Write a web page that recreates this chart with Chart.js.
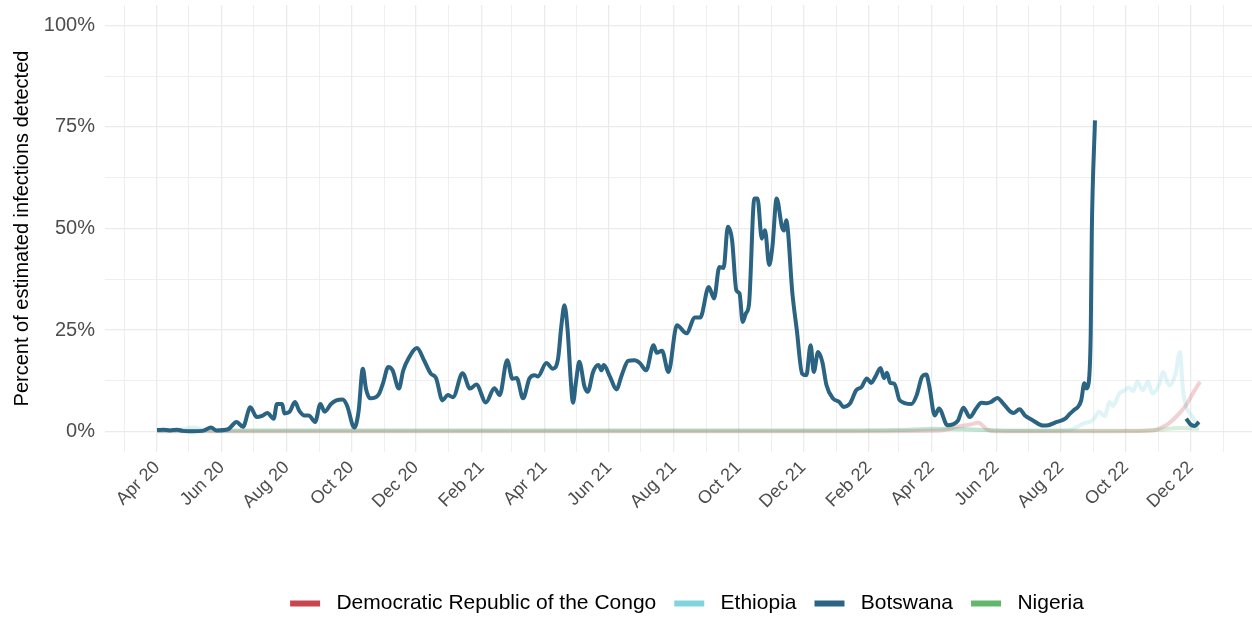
<!DOCTYPE html>
<html>
<head>
<meta charset="utf-8">
<script src="https://cdn.jsdelivr.net/npm/chart.js@4.4.1/dist/chart.umd.min.js"></script>
<style>
  html, body { margin: 0; padding: 0; background: #fff; }
</style>
</head>
<body>
<canvas id="mainChart" width="1252" height="617"></canvas>
<script>
const countries = ["Democratic Republic of the Congo", "Ethiopia", "Botswana", "Nigeria"];
const monthLabels = ["Jan", "Feb", "Mar", "Apr", "May", "Jun", "Jul", "Aug", "Sep", "Oct", "Nov", "Dec"];
const yTickValues = [0, 12.5, 25, 37.5, 50, 62.5, 75, 87.5, 100];

const botswanaDates = [
  "2020-04-01","2020-04-07","2020-04-13","2020-04-20","2020-04-25","2020-05-05","2020-05-14","2020-05-22","2020-05-27","2020-06-07",
  "2020-06-15","2020-06-21","2020-06-28","2020-07-04","2020-07-09","2020-07-14","2020-07-20","2020-07-23","2020-07-28","2020-07-30",
  "2020-08-04","2020-08-09","2020-08-13","2020-08-18","2020-08-22","2020-08-28","2020-09-02","2020-09-06","2020-09-12","2020-09-17",
  "2020-09-23","2020-09-27","2020-10-04","2020-10-08","2020-10-12","2020-10-15","2020-10-19","2020-10-27","2020-10-31","2020-11-05",
  "2020-11-09","2020-11-15","2020-11-19","2020-11-24","2020-12-02","2020-12-09","2020-12-15","2020-12-20","2020-12-26","2020-12-31",
  "2021-01-05","2021-01-14","2021-01-21","2021-01-27","2021-02-05","2021-02-13","2021-02-18","2021-02-25","2021-03-02","2021-03-06",
  "2021-03-12","2021-03-18","2021-03-23","2021-03-26","2021-04-03","2021-04-09","2021-04-14","2021-04-17","2021-04-20","2021-04-23",
  "2021-04-26","2021-04-28","2021-05-01","2021-05-04","2021-05-09","2021-05-12","2021-05-17","2021-05-22","2021-05-25","2021-05-27",
  "2021-06-02","2021-06-08","2021-06-13","2021-06-19","2021-06-25","2021-06-30","2021-07-06","2021-07-13","2021-07-16","2021-07-21",
  "2021-07-27","2021-08-04","2021-08-13","2021-08-21","2021-08-26","2021-09-03","2021-09-08","2021-09-13","2021-09-17","2021-09-21",
  "2021-09-25","2021-09-29","2021-10-02","2021-10-05","2021-10-08","2021-10-11","2021-10-16","2021-10-19","2021-10-23","2021-10-26",
  "2021-10-30","2021-11-02","2021-11-06","2021-11-11","2021-11-13","2021-11-15","2021-11-21","2021-11-25","2021-11-30","2021-12-04",
  "2021-12-08","2021-12-11","2021-12-15","2021-12-19","2021-12-23","2021-12-29","2022-01-04","2022-01-08","2022-01-14","2022-01-20",
  "2022-01-25","2022-01-30","2022-02-03","2022-02-07","2022-02-12","2022-02-15","2022-02-18","2022-02-21","2022-02-25","2022-03-02",
  "2022-03-13","2022-03-18","2022-03-23","2022-03-27","2022-03-30","2022-04-04","2022-04-08","2022-04-16","2022-04-21","2022-04-26",
  "2022-05-01","2022-05-07","2022-05-13","2022-05-18","2022-05-23","2022-05-27","2022-06-02","2022-06-07","2022-06-14","2022-06-17",
  "2022-06-23","2022-06-28","2022-07-06","2022-07-15","2022-07-20","2022-07-28","2022-08-05","2022-08-09","2022-08-13","2022-08-17",
  "2022-08-20","2022-08-23","2022-08-25","2022-08-27","2022-08-29","2022-08-30","2022-09-02","2022-09-03",
  "2022-11-27","2022-12-01","2022-12-05","2022-12-09"
];
const botswanaValues = [
  0.4, 0.5, 0.3, 0.5, 0.2, 0.1, 0.2, 1.0, 0.3, 0.6,
  2.4, 1.2, 6.0, 3.6, 3.9, 4.6, 3.2, 6.8, 6.8, 4.5,
  4.9, 7.3, 5.2, 4.0, 4.0, 2.4, 6.8, 4.9, 6.8, 7.7,
  7.9, 6.5, 1.0, 5.0, 15.5, 10.5, 8.2, 9.2, 11.9, 15.9,
  15.1, 10.6, 15.0, 18.0, 20.6, 17.4, 14.3, 13.2, 7.7, 9.0,
  8.5, 14.4, 10.6, 11.6, 7.2, 10.7, 9.0, 17.6, 13.0, 13.2,
  8.2, 13.1, 13.9, 13.6, 16.9, 15.5, 18.0, 25.8, 31.1, 25.0,
  12.5, 7.1, 12.5, 17.2, 11.0, 9.8, 14.7, 16.4, 15.1, 16.4,
  13.5, 10.4, 13.9, 17.4, 17.6, 16.9, 15.1, 21.3, 19.4, 19.9,
  14.7, 26.2, 24.2, 28.1, 28.1, 35.6, 32.8, 40.5, 40.3, 50.4,
  47.1, 34.8, 34.0, 27.0, 29.1, 31.5, 57.4, 57.4, 47.5, 49.6,
  41.0, 45.5, 57.4, 50.4, 49.5, 52.0, 33.6, 25.0, 14.3, 13.9,
  21.3, 14.7, 19.6, 17.2, 11.4, 8.2, 7.3, 6.1, 6.9, 10.2,
  11.0, 13.1, 12.0, 13.5, 15.7, 13.2, 14.5, 12.0, 11.8, 7.7,
  6.8, 9.0, 13.5, 14.1, 11.0, 4.0, 5.7, 1.6, 1.8, 2.8,
  5.9, 3.6, 5.7, 7.1, 7.0, 7.3, 8.3, 7.1, 5.0, 4.6,
  5.5, 4.0, 2.7, 1.5, 1.6, 2.4, 3.2, 4.3, 5.3, 6.1,
  7.7, 11.9, 10.6, 11.9, 24.2, 48.8, 76.6, null,
  3.2, 1.8, 1.4, 2.4
];

const ethiopiaDates = [
  "2020-04-01","2020-04-20","2020-05-05","2020-05-20","2020-07-01","2020-10-01","2021-01-01","2021-04-01","2021-07-01","2021-10-01",
  "2022-01-01","2022-03-15","2022-04-15","2022-05-15","2022-06-15","2022-07-15","2022-08-09","2022-08-15","2022-08-22","2022-08-31",
  "2022-09-06","2022-09-11","2022-09-16","2022-09-19","2022-09-25","2022-09-30","2022-10-04","2022-10-08","2022-10-12","2022-10-17",
  "2022-10-22","2022-10-26","2022-11-02","2022-11-05","2022-11-11","2022-11-17","2022-11-21","2022-11-24","2022-11-27","2022-12-02",
  "2022-12-06","2022-12-09"
];
const ethiopiaValues = [
  0.3, 0.4, 1.0, 0.3, 0.3, 0.3, 0.3, 0.3, 0.3, 0.3,
  0.3, 0.5, 0.7, 0.5, 0.3, 0.3, 0.4, 1.0, 2.0, 2.8,
  4.9, 3.8, 7.3, 6.3, 9.4, 10.2, 10.9, 10.0, 12.3, 10.2,
  12.3, 9.4, 11.9, 14.7, 11.4, 14.3, 19.6, 10.0, 6.1, 4.0,
  2.4, 1.5
];

const congoDates = [
  "2020-04-01","2021-01-01","2022-01-01","2022-04-10","2022-04-25","2022-05-08","2022-05-15","2022-05-23","2022-05-30","2022-07-01",
  "2022-09-01","2022-10-23","2022-11-08","2022-11-18","2022-11-27","2022-12-03","2022-12-10"
];
const congoValues = [
  0.1, 0.1, 0.1, 0.3, 1.2, 1.8, 2.2, 0.6, 0.1, 0.1,
  0.1, 0.2, 1.6, 3.8, 6.6, 9.3, 12.3
];

const nigeriaDates = [
  "2020-04-01","2020-07-01","2020-10-01","2021-01-01","2021-04-01","2021-07-01","2021-10-01","2022-01-01","2022-03-01","2022-04-01",
  "2022-05-01","2022-06-01","2022-08-01","2022-10-01","2022-11-01","2022-11-20","2022-12-09"
];
const nigeriaValues = [
  0.2, 0.3, 0.3, 0.3, 0.3, 0.3, 0.3, 0.3, 0.4, 0.7,
  0.6, 0.3, 0.2, 0.2, 0.5, 0.9, 0.7
];

const solidColors = ["#c8464e", "#7fd4dd", "#2a6482", "#62b86a"];
const fadedColors = ["rgba(200,70,78,0.25)", "rgba(127,212,221,0.25)", "#2a6482", "rgba(98,184,106,0.25)"];
const font = "'Liberation Sans', Arial, Helvetica, sans-serif";

function toPoints(dates, values) {
  return dates.map((d, i) => ({ x: Date.parse(d + "T00:00:00Z"), y: values[i] }));
}

function makeSet(i, dates, values, order) {
  return {
    label: countries[i],
    data: toPoints(dates, values),
    borderColor: fadedColors[i],
    backgroundColor: fadedColors[i],
    borderWidth: 4,
    pointRadius: 0,
    cubicInterpolationMode: "monotone",
    spanGaps: false,
    order: order
  };
}

// nudge legend so it is centred the way ggplot does it
const legendNudge = {
  id: "legendNudge",
  afterLayout(chart) {
    const lg = chart.legend;
    if (!lg) return;
    const dx = 687 - (lg.left + lg.right) / 2;
    lg.left += dx;
    lg.right += dx;
    lg.top += 7;
    lg.bottom += 7;
  }
};

document.addEventListener("DOMContentLoaded", () => {
  const ctx = document.getElementById("mainChart");
  new Chart(ctx, {
    type: "line",
    data: {
      datasets: [
        makeSet(0, congoDates, congoValues, 2),
        makeSet(1, ethiopiaDates, ethiopiaValues, 2),
        makeSet(2, botswanaDates, botswanaValues, 0),
        makeSet(3, nigeriaDates, nigeriaValues, 1)
      ]
    },
    options: {
      responsive: false,
      animation: false,
      layout: { padding: { top: 5, left: 0, right: 0, bottom: 0 } },
      plugins: {
        tooltip: { enabled: false },
        legend: {
          position: "bottom",
          labels: {
            font: { family: font, size: 21 },
            color: "#000",
            boxWidth: 30,
            boxHeight: 6,
            padding: 18,
            generateLabels: chart => chart.data.datasets.map((ds, i) => ({
              text: " " + ds.label,
              fillStyle: solidColors[i],
              strokeStyle: solidColors[i],
              lineWidth: 0,
              hidden: false,
              datasetIndex: i,
              fontColor: "#000"
            }))
          }
        }
      },
      scales: {
        x: {
          type: "linear",
          min: Date.UTC(2020, 1, 12),
          max: Date.UTC(2023, 0, 28),
          afterBuildTicks: scale => {
            const ticks = [];
            for (let y = 2020, m = 2; y < 2023 || (y === 2023 && m === 0); m++) {
              if (m > 11) { m = 0; y++; }
              ticks.push({ value: Date.UTC(y, m, 1) });
              if (y === 2023) break;
            }
            scale.ticks = ticks;
          },
          afterFit: scale => {
            scale.height = 116;
            scale.paddingLeft = 0;
            scale.paddingRight = 0;
          },
          ticks: {
            autoSkip: false,
            minRotation: 45,
            maxRotation: 45,
            padding: 5,
            color: "#4d4d4d",
            font: { family: font, size: 18 },
            callback: value => {
              const d = new Date(value);
              const m = d.getUTCMonth();
              if (m % 2 === 0) return "";
              return monthLabels[m] + " " + String(d.getUTCFullYear()).slice(2);
            }
          },
          grid: {
            color: "#ebebeb",
            drawTicks: false,
            lineWidth: c => (c.tick && new Date(c.tick.value).getUTCMonth() % 2 === 1) ? 1.3 : 0.8
          },
          border: { display: false }
        },
        y: {
          min: -5,
          max: 105,
          afterBuildTicks: scale => { scale.ticks = yTickValues.map(v => ({ value: v })); },
          afterFit: scale => {
            scale.width = 105;
            scale.paddingTop = 0;
            scale.paddingBottom = 0;
          },
          ticks: {
            padding: 10,
            color: "#4d4d4d",
            font: { family: font, size: 20 },
            callback: v => (v % 25 === 0 ? v + "%" : "")
          },
          grid: {
            color: "#ebebeb",
            drawTicks: false,
            lineWidth: c => (c.tick && c.tick.value % 25 === 0) ? 1.3 : 0.8
          },
          border: { display: false },
          title: {
            display: true,
            text: "Percent of estimated infections detected",
            color: "#000",
            font: { family: font, size: 20 },
            padding: { top: 10, bottom: 0 }
          }
        }
      }
    },
    plugins: [legendNudge]
  });
});
</script>
</body>
</html>
